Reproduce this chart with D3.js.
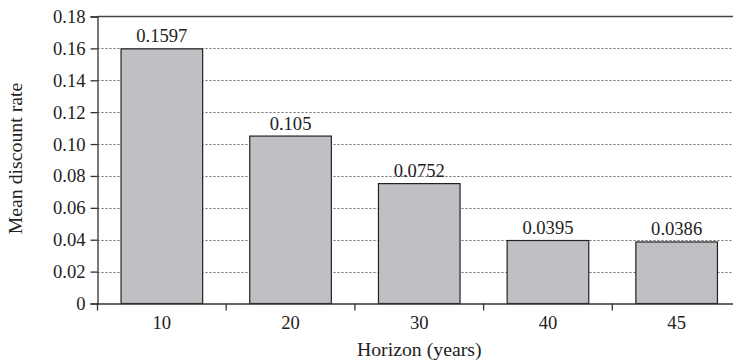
<!DOCTYPE html>
<html>
<head>
<meta charset="utf-8">
<script src="https://cdn.jsdelivr.net/npm/d3@7"></script>
<style>
  html, body { margin: 0; padding: 0; background: #fff; overflow: hidden; }
  svg { display: block; font-family: "Liberation Serif", "DejaVu Serif", serif; }
</style>
</head>
<body>
<svg id="chart" width="733" height="362"></svg>
<script>
// Mean discount rate by horizon
const horizons = ["10", "20", "30", "40", "45"];
const rates = [0.1597, 0.105, 0.0752, 0.0395, 0.0386];
const rateLabels = ["0.1597", "0.105", "0.0752", "0.0395", "0.0386"];
const yTicks = [0, 0.02, 0.04, 0.06, 0.08, 0.10, 0.12, 0.14, 0.16, 0.18];
const yTickLabels = ["0", "0.02", "0.04", "0.06", "0.08", "0.10", "0.12", "0.14", "0.16", "0.18"];

(function () {
const svg = d3.select("#chart");
const plotL = 97.5, plotR = 741, plotT = 16.5, plotB = 303.5;
const labelSize = 18.6, titleSize = 19.8, ink = "#222";

const x = d3.scaleBand().domain(horizons).range([plotL, plotR]).paddingInner(0.366).paddingOuter(0.183);
const y = d3.scaleLinear().domain([0, 0.18]).range([plotB, plotT]);

// dotted gridlines
svg.append("g").selectAll("line")
  .data(yTicks.filter(t => t > 0 && t < 0.18))
  .join("line")
  .attr("x1", plotL).attr("x2", plotR)
  .attr("y1", d => Math.round(y(d)) + 0.5).attr("y2", d => Math.round(y(d)) + 0.5)
  .attr("stroke", "#6a6a6a").attr("stroke-width", 1).attr("stroke-dasharray", "2,2");

// top frame line
svg.append("line")
  .attr("x1", plotL).attr("x2", plotR)
  .attr("y1", y(0.18)).attr("y2", y(0.18))
  .attr("stroke", "#444").attr("stroke-width", 1.3);

// bars
svg.append("g").selectAll("rect")
  .data(horizons)
  .join("rect")
  .attr("x", d => x(d))
  .attr("width", x.bandwidth())
  .attr("y", (d, i) => y(rates[i]))
  .attr("height", (d, i) => y(0) - y(rates[i]))
  .attr("fill", "#bfc0c3")
  .attr("stroke", "#222")
  .attr("stroke-width", 1.2);

// value labels
svg.append("g").selectAll("text")
  .data(horizons)
  .join("text")
  .attr("x", d => x(d) + x.bandwidth() / 2)
  .attr("y", (d, i) => y(rates[i]) - 6.5)
  .attr("text-anchor", "middle")
  .attr("font-size", labelSize)
  .attr("fill", ink)
  .text((d, i) => rateLabels[i]);

// y axis
const yAxis = d3.axisLeft(y).tickValues(yTicks).tickSize(7).tickPadding(5)
  .tickFormat((d, i) => yTickLabels[i]);
const gy = svg.append("g").attr("transform", `translate(${plotL},0)`).call(yAxis);
gy.select(".domain").attr("stroke", "#333").attr("stroke-width", 1.3);
gy.selectAll(".tick line").attr("stroke", "#333").attr("stroke-width", 1.3);
gy.selectAll(".tick text").attr("font-size", labelSize).attr("fill", ink)
  .attr("font-family", "Liberation Serif, serif");

// x axis with boundary ticks between categories
const xAxis = d3.axisBottom(x).tickSize(0).tickPadding(0);
const gx = svg.append("g").attr("transform", `translate(0,${plotB})`).call(xAxis);
gx.select(".domain").attr("stroke", "#333").attr("stroke-width", 1.3);
gx.selectAll(".tick text").attr("font-size", labelSize).attr("fill", ink)
  .attr("font-family", "Liberation Serif, serif")
  .attr("dy", null).attr("y", 25);
const step = x.step();
gx.append("g").selectAll("line")
  .data(d3.range(horizons.length + 1))
  .join("line")
  .attr("x1", i => plotL + i * step).attr("x2", i => plotL + i * step)
  .attr("y1", 0).attr("y2", 7)
  .attr("stroke", "#333").attr("stroke-width", 1.3);

// axis titles
svg.append("text")
  .attr("x", (plotL + plotR) / 2).attr("y", 356)
  .attr("text-anchor", "middle").attr("font-size", titleSize).attr("fill", ink)
  .text("Horizon (years)");
svg.append("text")
  .attr("transform", `translate(22,158.5) rotate(-90)`)
  .attr("text-anchor", "middle").attr("font-size", titleSize).attr("fill", ink)
  .text("Mean discount rate");
})();
</script>
</body>
</html>
